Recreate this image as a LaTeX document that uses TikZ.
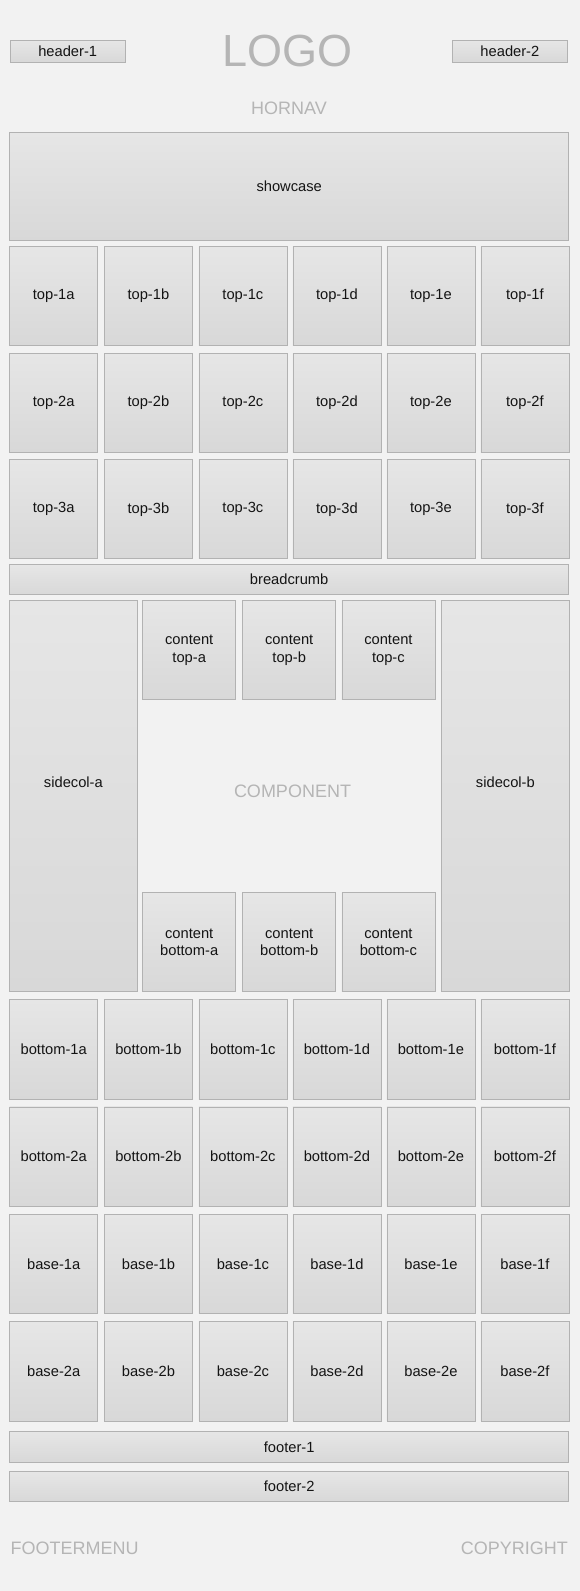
\documentclass[tikz,border=0pt]{standalone}
\usepackage{fontspec}
\setmainfont{Liberation Sans}
\definecolor{pagebg}{HTML}{F2F2F2}
\definecolor{cellline}{HTML}{B2B2B2}
\definecolor{celltop}{HTML}{E6E6E6}
\definecolor{cellbot}{HTML}{D8D8D8}
\definecolor{celltext}{HTML}{141414}
\definecolor{faintgray}{HTML}{B5B5B5}
\begin{document}
\begin{tikzpicture}[x=1pt,y=-1pt,
  cell/.style={draw=cellline, line width=0.8pt, top color=celltop, bottom color=cellbot,
    inner sep=0pt, anchor=north west, text=celltext,
    font=\fontsize{14.7}{17.3}\selectfont, align=center},
  faint/.style={text=faintgray, inner sep=0pt}]
% page
\fill[pagebg] (0,0) rectangle (580,1591);
\useasboundingbox (0,0) rectangle (580,1591);

% header
\node[cell, minimum width=115pt, minimum height=21.4pt] (header1) at (9.8,40.3) {header-1};
\node[cell, minimum width=115pt, minimum height=21.4pt] (header2) at (452,40.3) {header-2};
\node[faint, font=\fontsize{45}{45}\selectfont] (logo) at (287.8,51) {LOGO};
\node[faint, font=\fontsize{18}{18}\selectfont] (hornav) at (289,108.7) {HORNAV};

% showcase
\node[cell, minimum width=559pt, minimum height=108pt] (showcase) at (9.3,132.3) {showcase};

% top grid
\foreach \c/\xx in {a/9.3,b/104.0,c/198.5,d/292.5,e/386.5,f/480.5}{
  \foreach \r/\yy in {1/246,2/352.7,3/459.3}{
    \node[cell, minimum width=88pt, minimum height=99pt] (top\r\c) at (\xx,\yy) {top-\r\c};
  }
}

% breadcrumb
\node[cell, minimum width=559pt, minimum height=30pt] (breadcrumb) at (9.3,564.3) {breadcrumb};

% main area: side columns carry their labels a little above centre
\node[cell, minimum width=127.4pt, minimum height=390.7pt] (sidecola) at (9.3,600.3)
  {\raisebox{14pt}[\height][\depth]{sidecol-a}};
\node[cell, minimum width=127.4pt, minimum height=390.7pt] (sidecolb) at (441.3,600.3)
  {\raisebox{14pt}[\height][\depth]{sidecol-b}};
\foreach \c/\xx in {a/142.3,b/242.3,c/341.5}{
  \node[cell, minimum width=93pt, minimum height=99pt] (contenttop\c) at (\xx,600.3) {content\\top-\c};
  \node[cell, minimum width=93pt, minimum height=99pt] (contentbottom\c) at (\xx,892.3) {content\\bottom-\c};
}
\node[faint, font=\fontsize{18}{18}\selectfont] (component) at (292.5,791.7) {COMPONENT};

% bottom and base grids
\foreach \c/\xx in {a/9.3,b/104.0,c/198.5,d/292.5,e/386.5,f/480.5}{
  \foreach \r/\yy in {1/999.3,2/1106.5}{
    \node[cell, minimum width=88pt, minimum height=99.5pt] (bottom\r\c) at (\xx,\yy) {bottom-\r\c};
  }
  \foreach \r/\yy in {1/1213.7,2/1321}{
    \node[cell, minimum width=88pt, minimum height=99.5pt] (base\r\c) at (\xx,\yy) {base-\r\c};
  }
}

% footer
\node[cell, minimum width=559pt, minimum height=30.4pt] (footer1) at (9.3,1431.3) {footer-1};
\node[cell, minimum width=559pt, minimum height=30.4pt] (footer2) at (9.3,1471) {footer-2};
\node[faint, font=\fontsize{18}{18}\selectfont, anchor=west] (footermenu) at (10.4,1548.7) {FOOTERMENU};
\node[faint, font=\fontsize{18}{18}\selectfont, anchor=east] (copyright) at (568,1548.7) {COPYRIGHT};
\end{tikzpicture}
\end{document}
